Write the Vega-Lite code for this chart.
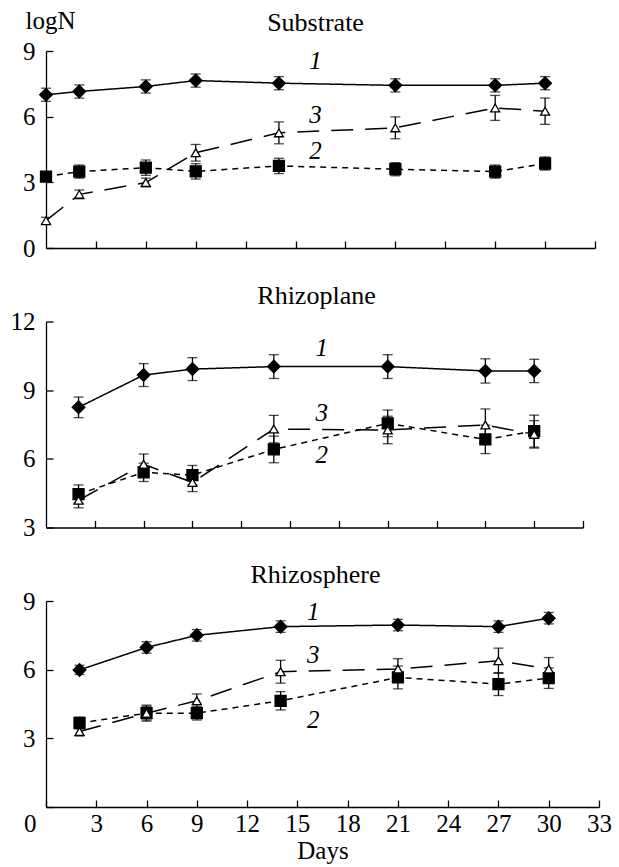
{
  "$schema": "https://vega.github.io/schema/vega-lite/v6.json",
  "background": "white",
  "padding": {"left": 10, "top": 8, "right": 5, "bottom": 5},
  "spacing": 21.5,
  "config": {
    "font": "Liberation Serif",
    "view": {"stroke": null},
    "axis": {
      "domainColor": "black", "domainWidth": 1.3,
      "tickColor": "black", "tickWidth": 1.3, "tickSize": -7,
      "labelFont": "Liberation Serif", "labelFontSize": 25, "labelColor": "black",
      "labelPadding": 18, "labelFlush": false, "labelOverlap": false, "labelBound": false,
      "grid": false,
      "titleFont": "Liberation Serif", "titleFontSize": 25, "titleFontWeight": "normal", "titleColor": "black"
    },
    "title": {"font": "Liberation Serif", "fontSize": 26, "fontWeight": "normal", "color": "black", "baseline": "alphabetic", "anchor": "middle"}
  },
  "datasets": {
    "pts": [
      {"p": "S", "s": "1", "d": 0, "v": 7.0, "lo": 6.7, "hi": 7.3},
      {"p": "S", "s": "1", "d": 2, "v": 7.15, "lo": 6.85, "hi": 7.45},
      {"p": "S", "s": "1", "d": 6, "v": 7.38, "lo": 7.08, "hi": 7.68},
      {"p": "S", "s": "1", "d": 9, "v": 7.65, "lo": 7.35, "hi": 7.95},
      {"p": "S", "s": "1", "d": 14, "v": 7.53, "lo": 7.23, "hi": 7.83},
      {"p": "S", "s": "1", "d": 21, "v": 7.43, "lo": 7.13, "hi": 7.73},
      {"p": "S", "s": "1", "d": 27, "v": 7.43, "lo": 7.13, "hi": 7.73},
      {"p": "S", "s": "1", "d": 30, "v": 7.53, "lo": 7.23, "hi": 7.83},
      {"p": "S", "s": "2", "d": 0, "v": 3.26, "lo": 3.06, "hi": 3.46},
      {"p": "S", "s": "2", "d": 2, "v": 3.49, "lo": 3.19, "hi": 3.79},
      {"p": "S", "s": "2", "d": 6, "v": 3.67, "lo": 3.32, "hi": 4.02},
      {"p": "S", "s": "2", "d": 9, "v": 3.5, "lo": 3.15, "hi": 3.85},
      {"p": "S", "s": "2", "d": 14, "v": 3.75, "lo": 3.4, "hi": 4.1},
      {"p": "S", "s": "2", "d": 21, "v": 3.6, "lo": 3.3, "hi": 3.9},
      {"p": "S", "s": "2", "d": 27, "v": 3.49, "lo": 3.19, "hi": 3.79},
      {"p": "S", "s": "2", "d": 30, "v": 3.86, "lo": 3.56, "hi": 4.16},
      {"p": "S", "s": "3", "d": 0, "v": 1.25, "lo": 1.1, "hi": 1.4},
      {"p": "S", "s": "3", "d": 2, "v": 2.45, "lo": 2.25, "hi": 2.65},
      {"p": "S", "s": "3", "d": 6, "v": 2.99, "lo": 2.79, "hi": 3.19},
      {"p": "S", "s": "3", "d": 9, "v": 4.35, "lo": 3.97, "hi": 4.73},
      {"p": "S", "s": "3", "d": 14, "v": 5.26, "lo": 4.76, "hi": 5.76},
      {"p": "S", "s": "3", "d": 21, "v": 5.49, "lo": 4.99, "hi": 5.99},
      {"p": "S", "s": "3", "d": 27, "v": 6.4, "lo": 5.83, "hi": 6.97},
      {"p": "S", "s": "3", "d": 30, "v": 6.25, "lo": 5.65, "hi": 6.85},
      {"p": "P", "s": "1", "d": 2, "v": 8.25, "lo": 7.8, "hi": 8.7},
      {"p": "P", "s": "1", "d": 6, "v": 9.66, "lo": 9.16, "hi": 10.16},
      {"p": "P", "s": "1", "d": 9, "v": 9.92, "lo": 9.42, "hi": 10.42},
      {"p": "P", "s": "1", "d": 14, "v": 10.03, "lo": 9.51, "hi": 10.55},
      {"p": "P", "s": "1", "d": 21, "v": 10.03, "lo": 9.51, "hi": 10.55},
      {"p": "P", "s": "1", "d": 27, "v": 9.84, "lo": 9.31, "hi": 10.37},
      {"p": "P", "s": "1", "d": 30, "v": 9.84, "lo": 9.33, "hi": 10.35},
      {"p": "P", "s": "2", "d": 2, "v": 4.46, "lo": 4.06, "hi": 4.86},
      {"p": "P", "s": "2", "d": 6, "v": 5.41, "lo": 5.01, "hi": 5.81},
      {"p": "P", "s": "2", "d": 9, "v": 5.29, "lo": 4.87, "hi": 5.71},
      {"p": "P", "s": "2", "d": 14, "v": 6.41, "lo": 5.83, "hi": 6.99},
      {"p": "P", "s": "2", "d": 21, "v": 7.55, "lo": 6.97, "hi": 8.13},
      {"p": "P", "s": "2", "d": 27, "v": 6.85, "lo": 6.23, "hi": 7.47},
      {"p": "P", "s": "2", "d": 30, "v": 7.21, "lo": 6.51, "hi": 7.91},
      {"p": "P", "s": "3", "d": 2, "v": 4.19, "lo": 3.86, "hi": 4.52},
      {"p": "P", "s": "3", "d": 6, "v": 5.76, "lo": 5.31, "hi": 6.21},
      {"p": "P", "s": "3", "d": 9, "v": 4.97, "lo": 4.57, "hi": 5.37},
      {"p": "P", "s": "3", "d": 14, "v": 7.3, "lo": 6.7, "hi": 7.9},
      {"p": "P", "s": "3", "d": 21, "v": 7.26, "lo": 6.66, "hi": 7.86},
      {"p": "P", "s": "3", "d": 27, "v": 7.48, "lo": 6.78, "hi": 8.18},
      {"p": "P", "s": "3", "d": 30, "v": 7.07, "lo": 6.47, "hi": 7.67},
      {"p": "R", "s": "1", "d": 2, "v": 5.99, "lo": 5.79, "hi": 6.19},
      {"p": "R", "s": "1", "d": 6, "v": 6.97, "lo": 6.72, "hi": 7.22},
      {"p": "R", "s": "1", "d": 9, "v": 7.5, "lo": 7.25, "hi": 7.75},
      {"p": "R", "s": "1", "d": 14, "v": 7.88, "lo": 7.63, "hi": 8.13},
      {"p": "R", "s": "1", "d": 21, "v": 7.95, "lo": 7.7, "hi": 8.2},
      {"p": "R", "s": "1", "d": 27, "v": 7.88, "lo": 7.63, "hi": 8.13},
      {"p": "R", "s": "1", "d": 30, "v": 8.25, "lo": 8.0, "hi": 8.5},
      {"p": "R", "s": "2", "d": 2, "v": 3.67, "lo": 3.42, "hi": 3.92},
      {"p": "R", "s": "2", "d": 6, "v": 4.1, "lo": 3.75, "hi": 4.45},
      {"p": "R", "s": "2", "d": 9, "v": 4.1, "lo": 3.8, "hi": 4.4},
      {"p": "R", "s": "2", "d": 14, "v": 4.64, "lo": 4.24, "hi": 5.04},
      {"p": "R", "s": "2", "d": 21, "v": 5.66, "lo": 5.16, "hi": 6.16},
      {"p": "R", "s": "2", "d": 27, "v": 5.37, "lo": 4.87, "hi": 5.87},
      {"p": "R", "s": "2", "d": 30, "v": 5.63, "lo": 5.18, "hi": 6.08},
      {"p": "R", "s": "3", "d": 2, "v": 3.3, "lo": 3.1, "hi": 3.5},
      {"p": "R", "s": "3", "d": 6, "v": 4.1, "lo": 3.8, "hi": 4.4},
      {"p": "R", "s": "3", "d": 9, "v": 4.64, "lo": 4.34, "hi": 4.94},
      {"p": "R", "s": "3", "d": 14, "v": 5.91, "lo": 5.41, "hi": 6.41},
      {"p": "R", "s": "3", "d": 21, "v": 6.03, "lo": 5.58, "hi": 6.48},
      {"p": "R", "s": "3", "d": 27, "v": 6.39, "lo": 5.84, "hi": 6.94},
      {"p": "R", "s": "3", "d": 30, "v": 6.03, "lo": 5.53, "hi": 6.53}
    ],
    "lbl": [
      {"p": "S", "lab": "1", "d": 16.2, "v": 8.53},
      {"p": "S", "lab": "3", "d": 16.2, "v": 6.07},
      {"p": "S", "lab": "2", "d": 16.2, "v": 4.44},
      {"p": "P", "lab": "1", "d": 16.95, "v": 10.83},
      {"p": "P", "lab": "3", "d": 16.95, "v": 7.99},
      {"p": "P", "lab": "2", "d": 16.95, "v": 6.16},
      {"p": "R", "lab": "1", "d": 15.95, "v": 8.53},
      {"p": "R", "lab": "3", "d": 15.95, "v": 6.64},
      {"p": "R", "lab": "2", "d": 15.95, "v": 3.81}
    ]
  },
  "vconcat": [
    {
      "width": 549, "height": 197,
      "title": {"text": "Substrate", "offset": -28.4, "dx": -5},
      "layer": [
        {
          "data": {"name": "pts"}, "transform": [{"filter": "datum.p === 'S'"}],
          "mark": {"type": "line", "strokeWidth": 1.5, "color": "black"},
          "encoding": {
            "x": {"field": "d", "type": "quantitative", "scale": {"domain": [0, 33], "nice": false}, "axis": {"values": [3, 6, 9, 12, 15, 18, 21, 24, 27, 30, 33], "labels": false, "title": null}},
            "y": {"field": "v", "type": "quantitative", "title": "logN", "scale": {"domain": [0, 9], "nice": false}, "axis": {"values": [0, 3, 6, 9], "title": "logN", "titleAngle": 0, "titleAlign": "left", "titleBaseline": "alphabetic", "titleX": -21, "titleY": -23}},
            "detail": {"field": "s"},
            "strokeDash": {"field": "s", "type": "nominal", "scale": {"domain": ["1", "2", "3"], "range": [[1, 0], [6, 5], [22, 12]]}, "legend": null}
          }
        },
        {
          "data": {"name": "pts"}, "transform": [{"filter": "datum.p === 'S'"}],
          "mark": {"type": "errorbar", "color": "black", "thickness": 1.3, "ticks": {"size": 10, "thickness": 1.3, "color": "black"}},
          "encoding": {
            "x": {"field": "d", "type": "quantitative"},
            "y": {"field": "lo", "type": "quantitative", "title": "logN"},
            "y2": {"field": "hi"}
          }
        },
        {
          "data": {"name": "pts"}, "transform": [{"filter": "datum.p === 'S'"}],
          "mark": {"type": "point", "filled": true, "stroke": "black", "strokeWidth": 1.3, "opacity": 1},
          "encoding": {
            "x": {"field": "d", "type": "quantitative"},
            "y": {"field": "v", "type": "quantitative", "title": "logN"},
            "shape": {"field": "s", "type": "nominal", "scale": {"domain": ["1", "2", "3"], "range": ["diamond", "square", "triangle-up"]}, "legend": null},
            "fill": {"field": "s", "type": "nominal", "scale": {"domain": ["1", "2", "3"], "range": ["black", "black", "white"]}, "legend": null},
            "size": {"field": "s", "type": "nominal", "scale": {"domain": ["1", "2", "3"], "range": [160, 81, 110]}, "legend": null}
          }
        },
        {
          "data": {"name": "lbl"}, "transform": [{"filter": "datum.p === 'S'"}],
          "mark": {"type": "text", "fontStyle": "italic", "fontSize": 25, "font": "Liberation Serif", "baseline": "middle", "color": "black"},
          "encoding": {
            "x": {"field": "d", "type": "quantitative"},
            "y": {"field": "v", "type": "quantitative", "title": "logN"},
            "text": {"field": "lab"}
          }
        }
      ]
    },
    {
      "width": 537, "height": 206,
      "title": {"text": "Rhizoplane", "offset": 0.6, "dx": 2},
      "layer": [
        {
          "data": {"name": "pts"}, "transform": [{"filter": "datum.p === 'P'"}],
          "mark": {"type": "line", "strokeWidth": 1.5, "color": "black"},
          "encoding": {
            "x": {"field": "d", "type": "quantitative", "scale": {"domain": [0, 33], "nice": false}, "axis": {"values": [3, 6, 9, 12, 15, 18, 21, 24, 27, 30, 33], "labels": false, "title": null}},
            "y": {"field": "v", "type": "quantitative", "scale": {"domain": [3, 12], "nice": false, "zero": false}, "axis": {"values": [3, 6, 9, 12], "title": null}},
            "detail": {"field": "s"},
            "strokeDash": {"field": "s", "type": "nominal", "scale": {"domain": ["1", "2", "3"], "range": [[1, 0], [6, 5], [22, 12]]}, "legend": null}
          }
        },
        {
          "data": {"name": "pts"}, "transform": [{"filter": "datum.p === 'P'"}],
          "mark": {"type": "errorbar", "color": "black", "thickness": 1.3, "ticks": {"size": 10, "thickness": 1.3, "color": "black"}},
          "encoding": {
            "x": {"field": "d", "type": "quantitative"},
            "y": {"field": "lo", "type": "quantitative", "title": null},
            "y2": {"field": "hi"}
          }
        },
        {
          "data": {"name": "pts"}, "transform": [{"filter": "datum.p === 'P'"}],
          "mark": {"type": "point", "filled": true, "stroke": "black", "strokeWidth": 1.3, "opacity": 1},
          "encoding": {
            "x": {"field": "d", "type": "quantitative"},
            "y": {"field": "v", "type": "quantitative"},
            "shape": {"field": "s", "type": "nominal", "scale": {"domain": ["1", "2", "3"], "range": ["diamond", "square", "triangle-up"]}, "legend": null},
            "fill": {"field": "s", "type": "nominal", "scale": {"domain": ["1", "2", "3"], "range": ["black", "black", "white"]}, "legend": null},
            "size": {"field": "s", "type": "nominal", "scale": {"domain": ["1", "2", "3"], "range": [160, 81, 110]}, "legend": null}
          }
        },
        {
          "data": {"name": "lbl"}, "transform": [{"filter": "datum.p === 'P'"}],
          "mark": {"type": "text", "fontStyle": "italic", "fontSize": 25, "font": "Liberation Serif", "baseline": "middle", "color": "black"},
          "encoding": {
            "x": {"field": "d", "type": "quantitative"},
            "y": {"field": "v", "type": "quantitative"},
            "text": {"field": "lab"}
          }
        }
      ]
    },
    {
      "width": 553, "height": 206,
      "title": {"text": "Rhizosphere", "offset": 0.6, "dx": -7},
      "layer": [
        {
          "data": {"name": "pts"}, "transform": [{"filter": "datum.p === 'R'"}],
          "mark": {"type": "line", "strokeWidth": 1.5, "color": "black"},
          "encoding": {
            "x": {"field": "d", "type": "quantitative", "scale": {"domain": [0, 33], "nice": false}, "axis": {"values": [0, 3, 6, 9, 12, 15, 18, 21, 24, 27, 30, 33], "title": "Days", "titlePadding": 2, "labelPadding": 11.5, "labelAlign": {"condition": {"test": "datum.value === 0", "value": "right"}, "value": "center"}, "labelOffset": {"condition": {"test": "datum.value === 0", "value": -10}, "value": 0}}},
            "y": {"field": "v", "type": "quantitative", "scale": {"domain": [0, 9], "nice": false}, "axis": {"values": [0, 3, 6, 9], "labelExpr": "datum.value === 0 ? '' : datum.label", "title": null}},
            "detail": {"field": "s"},
            "strokeDash": {"field": "s", "type": "nominal", "scale": {"domain": ["1", "2", "3"], "range": [[1, 0], [6, 5], [22, 12]]}, "legend": null}
          }
        },
        {
          "data": {"name": "pts"}, "transform": [{"filter": "datum.p === 'R'"}],
          "mark": {"type": "errorbar", "color": "black", "thickness": 1.3, "ticks": {"size": 10, "thickness": 1.3, "color": "black"}},
          "encoding": {
            "x": {"field": "d", "type": "quantitative"},
            "y": {"field": "lo", "type": "quantitative", "title": null},
            "y2": {"field": "hi"}
          }
        },
        {
          "data": {"name": "pts"}, "transform": [{"filter": "datum.p === 'R'"}],
          "mark": {"type": "point", "filled": true, "stroke": "black", "strokeWidth": 1.3, "opacity": 1},
          "encoding": {
            "x": {"field": "d", "type": "quantitative"},
            "y": {"field": "v", "type": "quantitative"},
            "shape": {"field": "s", "type": "nominal", "scale": {"domain": ["1", "2", "3"], "range": ["diamond", "square", "triangle-up"]}, "legend": null},
            "fill": {"field": "s", "type": "nominal", "scale": {"domain": ["1", "2", "3"], "range": ["black", "black", "white"]}, "legend": null},
            "size": {"field": "s", "type": "nominal", "scale": {"domain": ["1", "2", "3"], "range": [160, 81, 110]}, "legend": null}
          }
        },
        {
          "data": {"name": "lbl"}, "transform": [{"filter": "datum.p === 'R'"}],
          "mark": {"type": "text", "fontStyle": "italic", "fontSize": 25, "font": "Liberation Serif", "baseline": "middle", "color": "black"},
          "encoding": {
            "x": {"field": "d", "type": "quantitative"},
            "y": {"field": "v", "type": "quantitative"},
            "text": {"field": "lab"}
          }
        }
      ]
    }
  ]
}
